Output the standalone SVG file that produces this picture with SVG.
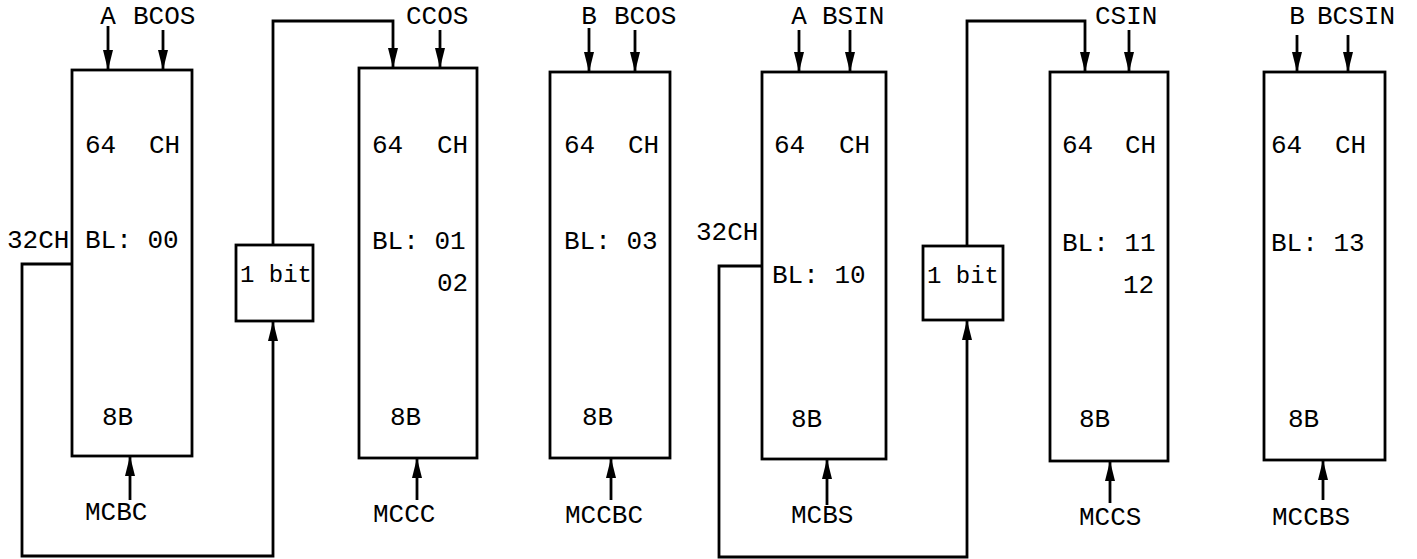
<svg xmlns="http://www.w3.org/2000/svg" width="1417" height="559" viewBox="0 0 1417 559">
<style>
.box{fill:none;stroke:#000;stroke-width:2.8}
.ln{fill:none;stroke:#000;stroke-width:2.8}
.arr{marker-end:url(#ah)}
text{font-family:"Liberation Mono","DejaVu Sans Mono",monospace;font-size:26px;fill:#000}
.bit{font-size:24px}
.m{text-anchor:middle}
</style>
<defs>
<marker id="ah" markerUnits="userSpaceOnUse" markerWidth="22" markerHeight="12" refX="20" refY="5" orient="auto">
<path d="M0,0 L20,5 L0,10 z" fill="#000"/>
</marker>
</defs>
<rect width="1417" height="559" fill="#fff"/>
<g id="connectors">
<path class="ln arr" d="M108,26 V70"/>
<path class="ln arr" d="M163,30 V70"/>
<path class="ln arr" d="M130,500 V456"/>
<path class="ln arr" d="M72,264 H22 V556 H273 V321"/>
<path class="ln arr" d="M273,245 V21 H393 V68"/>
<path class="ln arr" d="M440,30 V68"/>
<path class="ln arr" d="M417,500 V458"/>
<path class="ln arr" d="M589,28 V72"/>
<path class="ln arr" d="M635,30 V72"/>
<path class="ln arr" d="M611,500 V458"/>
<path class="ln arr" d="M799,30 V72"/>
<path class="ln arr" d="M850,30 V72"/>
<path class="ln arr" d="M827,505 V459"/>
<path class="ln arr" d="M762,266 H719 V557 H967 V320"/>
<path class="ln arr" d="M967,246 V21 H1085 V72"/>
<path class="ln arr" d="M1129,30 V72"/>
<path class="ln arr" d="M1110,503 V461"/>
<path class="ln arr" d="M1297,35 V72"/>
<path class="ln arr" d="M1348,35 V72"/>
<path class="ln arr" d="M1323,500 V460"/>
</g>
<g id="labels">
<text class="m" x="108" y="24">A</text>
<text x="133" y="24">BCOS</text>
<text x="406" y="24">CCOS</text>
<text class="m" x="589" y="24">B</text>
<text x="614" y="24">BCOS</text>
<text class="m" x="799" y="24">A</text>
<text x="822" y="24">BSIN</text>
<text x="1095" y="24">CSIN</text>
<text class="m" x="1297" y="24">B</text>
<text x="1317" y="24">BCSIN</text>
<text x="7" y="248">32CH</text>
<text x="696" y="240">32CH</text>
<text x="85" y="520">MCBC</text>
<text x="373" y="522">MCCC</text>
<text x="565" y="523">MCCBC</text>
<text x="791" y="523">MCBS</text>
<text x="1079" y="525">MCCS</text>
<text x="1272" y="525">MCCBS</text>
</g>
<g id="mem-00">
<rect class="box" x="72" y="70" width="120" height="386"/>
<text x="85" y="153">64</text><text x="149" y="153">CH</text>
<text x="85" y="248">BL: 00</text>
<text x="102" y="425">8B</text>
</g>
<g id="bit1">
<rect class="box" x="236" y="245" width="77" height="76"/>
<text class="bit" x="240" y="282">1 bit</text>
</g>
<g id="mem-01">
<rect class="box" x="359" y="68" width="118" height="390"/>
<text x="372" y="153">64</text><text x="437" y="153">CH</text>
<text x="372" y="249">BL: 01</text>
<text x="437" y="291">02</text>
<text x="390" y="425">8B</text>
</g>
<g id="mem-03">
<rect class="box" x="550" y="72" width="120" height="386"/>
<text x="564" y="153">64</text><text x="628" y="153">CH</text>
<text x="564" y="249">BL: 03</text>
<text x="582" y="425">8B</text>
</g>
<g id="mem-10">
<rect class="box" x="762" y="72" width="124" height="387"/>
<text x="774" y="153">64</text><text x="839" y="153">CH</text>
<text x="772" y="283">BL: 10</text>
<text x="791" y="427">8B</text>
</g>
<g id="bit2">
<rect class="box" x="923" y="246" width="80" height="74"/>
<text class="bit" x="927" y="283">1 bit</text>
</g>
<g id="mem-11">
<rect class="box" x="1050" y="72" width="118" height="389"/>
<text x="1062" y="153">64</text><text x="1125" y="153">CH</text>
<text x="1062" y="251">BL: 11</text>
<text x="1123" y="293">12</text>
<text x="1079" y="427">8B</text>
</g>
<g id="mem-13">
<rect class="box" x="1264" y="72" width="121" height="388"/>
<text x="1271" y="153">64</text><text x="1335" y="153">CH</text>
<text x="1271" y="251">BL: 13</text>
<text x="1288" y="427">8B</text>
</g>
</svg>
